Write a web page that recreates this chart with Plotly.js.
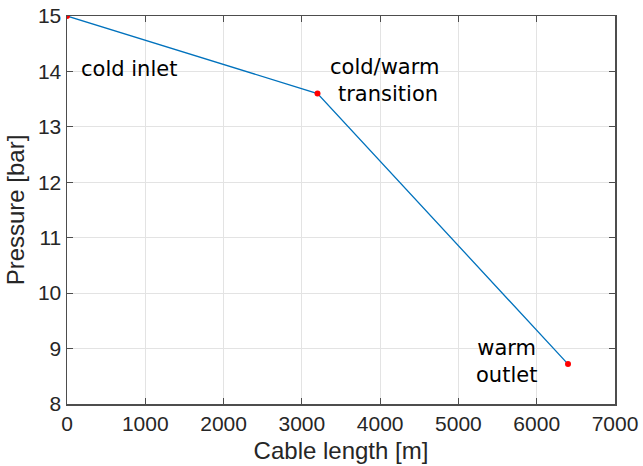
<!DOCTYPE html>
<html>
<head>
<meta charset="utf-8">
<script src="https://cdn.plot.ly/plotly-3.0.1.min.js"></script>
<style>html,body{margin:0;padding:0;background:#fff;}#chart{width:643px;height:466px;}</style>
</head>
<body>
<div id="chart"></div>
<script>
var cableLength = [0, 3200, 6400];
var pressure = [15, 13.6, 8.72];
var labelLines = [["cold inlet"], ["cold/warm", "\u00a0transition"], ["warm", "outlet"]];
var labelX = [790, 4055, 5610];
var labelY = [14.04, 13.84, 8.77];

var traces = [
  {x: cableLength, y: pressure, mode: 'lines', line: {color: '#0072BD', width: 1.3}, hoverinfo: 'none'},
  {x: cableLength, y: pressure, mode: 'markers', marker: {color: '#ff0000', size: 6}, hoverinfo: 'none'}
];

var annotations = labelLines.map(function (lines, i) {
  return {x: labelX[i], y: labelY[i], xref: 'x', yref: 'y', text: lines.join('<br>'), showarrow: false,
    align: 'center', font: {family: 'DejaVu Sans', size: 21, color: '#000'}};
});

var axisCommon = {
  showline: true, linecolor: '#4d4d4d', linewidth: 1.5, mirror: 'ticks',
  ticks: 'inside', ticklen: 6, tickcolor: '#4d4d4d', tickwidth: 1.2,
  showgrid: true, gridcolor: '#e3e3e3', gridwidth: 1, zeroline: false,
  tickfont: {family: 'Liberation Sans, Arial, sans-serif', size: 21, color: '#262626'}
};

var layout = {
  width: 643, height: 466,
  margin: {l: 67, r: 28, t: 16, b: 62},
  paper_bgcolor: '#fff', plot_bgcolor: '#fff',
  showlegend: false,
  xaxis: Object.assign({}, axisCommon, {
    range: [0, 7000], tickvals: [0, 1000, 2000, 3000, 4000, 5000, 6000, 7000],
    title: {text: 'Cable length [m]', font: {family: 'Liberation Sans, Arial, sans-serif', size: 24, color: '#262626'}, standoff: 8}
  }),
  yaxis: Object.assign({}, axisCommon, {
    range: [8, 15], tickvals: [8, 9, 10, 11, 12, 13, 14, 15],
    title: {text: 'Pressure [bar]', font: {family: 'Liberation Sans, Arial, sans-serif', size: 24, color: '#262626'}, standoff: 6}
  }),
  annotations: annotations
};

Plotly.newPlot('chart', traces, layout, {displayModeBar: false, staticPlot: true});
</script>
</body>
</html>
